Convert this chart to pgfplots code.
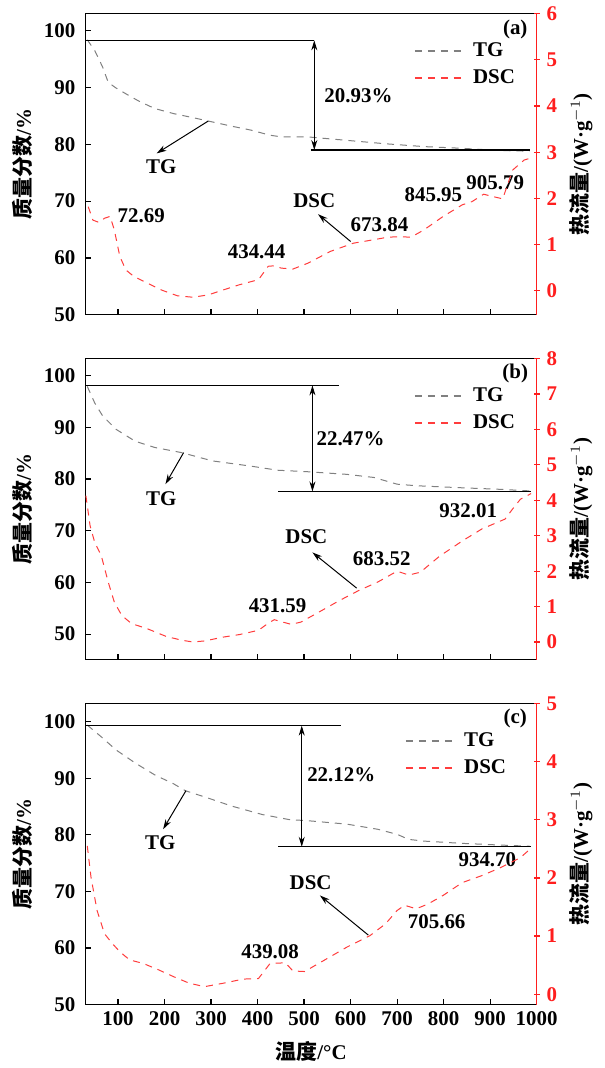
\documentclass[border=0pt]{standalone}
\usepackage{fontspec}
\setmainfont{Liberation Serif}
\newfontfamily\cjk{Noto Sans CJK SC}
\usepackage{pgfplots}
\pgfplotsset{compat=1.18}
\usetikzlibrary{arrows.meta}

\definecolor{tgc}{RGB}{128,128,128}
\definecolor{dscc}{RGB}{255,60,60}
\definecolor{axr}{RGB}{255,30,30}
\newcommand{\fs}{\fontsize{10.5}{12.6}\selectfont\bfseries}

\tikzset{
  tg/.style={tgc, dash pattern=on 3.5pt off 3pt, line width=0.5pt},
  dsc/.style={dscc, dash pattern=on 3.5pt off 3pt, line width=0.5pt},
  hl/.style={black, line width=0.6pt},
  ann/.style={font=\fs},
  arr/.style={line width=0.5pt, -{Stealth[length=5pt,width=3pt]}},
  darr/.style={line width=0.5pt, {Stealth[length=5pt,width=3pt]}-{Stealth[length=5pt,width=3pt]}},
}

\pgfplotsset{
  panel/.style={scale only axis, width=226.3pt, height=151pt,
    xmin=30, xmax=1000, xtick={100,200,...,1000},
    tick align=inside, major tick length=3pt,
    axis line style={line width=0.6pt}, every tick/.style={line width=0.6pt},
    tick label style={font=\fs},
    /pgf/number format/assume math mode=true,
    /pgf/number format/1000 sep={}},
  leftax/.style={panel, xtick pos=bottom, ytick pos=left, ytick={50,60,...,100},
    yticklabel style={xshift=-1.5pt},
    ylabel={{\cjk 质量分数}/\%},
    ylabel style={font=\fs, at={(axis description cs:-0.1385,0.5)}, anchor=center}},
  rightax/.style={panel, axis x line=none, axis y line=right,
    y axis line style={-, color=axr, line width=0.6pt},
    ytick style={color=axr}, yticklabel style={color=axr},
    ylabel={{\cjk 热流量}/(W·g$^{-1}$)},
    ylabel style={font=\fs, at={(axis description cs:1.0988,0.5)}, anchor=center},
    legend style={at={(axis description cs:0.7276,0.831)}, anchor=west, draw=none, fill=none,
      inner sep=0pt, font=\fs, row sep=1pt},
    legend cell align=left},
  tgleg/.style={legend image code/.code={\draw[tg, line width=0.7pt] (0pt,0pt) -- (23.5pt,0pt); \path (27pt,0pt);}},
  dscleg/.style={legend image code/.code={\draw[dsc, line width=0.7pt] (0pt,0pt) -- (23.5pt,0pt); \path (27pt,0pt);}},
}

\begin{document}
\begin{tikzpicture}
\path (0,0) rectangle (303pt,-534pt);

% ---------- (a)
\begin{axis}[leftax, at={(42.85pt,-6.5pt)}, anchor=north west, ymin=50, ymax=103, xticklabels={}]
\addplot[tg] coordinates {(34,98.4) (50,96.5) (67,93.6) (79,90.9) (96,89.9) (121,88.7) (145,87.6) (179,86.3) (220,85.4) (261,84.7) (294,84.1) (344,83.2) (386,82.5) (427,81.6) (452,81.3) (509,81.3) (592,80.7) (675,80.1) (758,79.6) (840,79.3) (923,78.9) (985,78.8)};
\addplot[hl] coordinates {(31,98.3) (522,98.3)};
\addplot[hl] coordinates {(514,79.0) (985,79.0)};
\draw[darr] (axis cs:522,98.3) -- (axis cs:522,79.0);
\node[ann] at (axis cs:617,88.6) {20.93\%};
\draw[arr] (axis cs:294,84.1) -- (axis cs:183,78.4);
\node[ann] at (axis cs:193,76.0) {TG};
\node[ann] at (axis cs:150,67.5) {72.69};
\node[ann] at (axis cs:398,61.1) {434.44};
\node[ann] at (axis cs:522,70.0) {DSC};
\draw[arr] (axis cs:600,62.9) -- (axis cs:530,67.7);
\node[ann] at (axis cs:662,65.8) {673.84};
\node[ann] at (axis cs:778,71.1) {845.95};
\node[ann] at (axis cs:911,73.3) {905.79};
\node[ann] at (axis cs:954,100.3) {(a)};
\end{axis}
\begin{axis}[rightax, at={(42.85pt,-6.5pt)}, anchor=north west, ymin=-0.52, ymax=6, ytick={0,...,6}]
\addlegendimage{tgleg}\addlegendentry{TG}
\addlegendimage{dscleg}\addlegendentry{DSC}
\addplot[dsc, forget plot] coordinates {(36,1.82) (46,1.53) (59,1.48) (71,1.57) (83,1.61) (92,1.32) (104,0.74) (117,0.45) (134,0.31) (162,0.17) (195,0.01) (228,-0.11) (261,-0.14) (294,-0.09) (327,0.02) (361,0.13) (402,0.24) (423,0.53) (435,0.54) (451,0.49) (476,0.47) (509,0.60) (556,0.85) (606,1.03) (647,1.10) (680,1.16) (705,1.17) (730,1.16) (758,1.32) (799,1.61) (840,1.86) (861,1.93) (886,2.09) (906,2.04) (927,1.99) (948,2.61) (973,2.83) (986,2.87)};
\end{axis}

% ---------- (b)
\begin{axis}[leftax, at={(42.85pt,-179.5pt)}, anchor=north west, ymin=45.05, ymax=103.28, xticklabels={}]
\addplot[tg] coordinates {(34,97.9) (50,94.7) (67,92.2) (96,89.6) (137,87.3) (179,86.1) (237,85.1) (303,83.5) (385,82.5) (443,81.7) (509,81.4) (592,80.9) (650,80.3) (700,79.0) (741,78.7) (840,78.3) (923,78.0) (985,77.7)};
\addplot[hl] coordinates {(31,98.1) (576,98.1)};
\addplot[hl] coordinates {(445,77.6) (988,77.6)};
\draw[darr] (axis cs:518,98.1) -- (axis cs:518,77.6);
\node[ann] at (axis cs:600,87.8) {22.47\%};
\draw[arr] (axis cs:241,85.1) -- (axis cs:202,79.0);
\node[ann] at (axis cs:193,76.2) {TG};
\node[ann] at (axis cs:505,68.9) {DSC};
\draw[arr] (axis cs:613,58.9) -- (axis cs:518,65.8);
\node[ann] at (axis cs:667,64.5) {683.52};
\node[ann] at (axis cs:443,55.5) {431.59};
\node[ann] at (axis cs:853,73.8) {932.01};
\node[ann] at (axis cs:954,100.5) {(b)};
\end{axis}
\begin{axis}[rightax, at={(42.85pt,-179.5pt)}, anchor=north west, ymin=-0.5, ymax=8, ytick={0,...,8}]
\addlegendimage{tgleg}\addlegendentry{TG}
\addlegendimage{dscleg}\addlegendentry{DSC}
\addplot[dsc, forget plot] coordinates {(31,4.13) (40,3.28) (50,2.81) (64,2.44) (79,1.69) (92,1.13) (108,0.75) (129,0.52) (162,0.38) (203,0.16) (237,0.05) (261,0.0) (286,0.03) (327,0.14) (361,0.21) (402,0.33) (425,0.55) (436,0.63) (452,0.57) (472,0.50) (493,0.56) (534,0.86) (576,1.17) (617,1.45) (658,1.69) (700,2.00) (725,1.89) (750,1.97) (791,2.42) (841,2.86) (882,3.19) (932,3.47) (948,3.75) (965,4.03) (988,4.19)};
\end{axis}

% ---------- (c)
\begin{axis}[leftax, at={(42.85pt,-352.5pt)}, anchor=north west, ymin=50, ymax=103.2,
  xlabel={{\cjk 温度}/°C}, xlabel style={font=\fs, at={(axis description cs:0.5,-0.155)}, anchor=center}]
\addplot[tg] coordinates {(34,99.4) (63,97.4) (96,95.0) (137,92.7) (179,90.6) (220,89.0) (245,87.8) (294,86.5) (344,85.1) (410,83.6) (468,82.7) (509,82.5) (592,81.9) (658,81.0) (700,80.1) (725,79.2) (758,78.9) (840,78.5) (923,78.2) (985,78.0)};
\addplot[hl] coordinates {(31,99.3) (580,99.3)};
\addplot[hl] coordinates {(445,77.9) (988,77.9)};
\draw[darr] (axis cs:495,99.3) -- (axis cs:495,77.9);
\node[ann] at (axis cs:580,90.6) {22.12\%};
\draw[arr] (axis cs:246,87.8) -- (axis cs:197,81.0);
\node[ann] at (axis cs:191,78.7) {TG};
\node[ann] at (axis cs:514,71.6) {DSC};
\draw[arr] (axis cs:638,62.3) -- (axis cs:534,69.3);
\node[ann] at (axis cs:785,64.6) {705.66};
\node[ann] at (axis cs:427,59.4) {439.08};
\node[ann] at (axis cs:894,75.7) {934.70};
\node[ann] at (axis cs:954,100.6) {(c)};
\end{axis}
\begin{axis}[rightax, at={(42.85pt,-352.5pt)}, anchor=north west, ymin=-0.18, ymax=5, ytick={0,...,5},
  legend style={at={(axis description cs:0.708,0.831)}}]
\addlegendimage{tgleg}\addlegendentry{TG}
\addlegendimage{dscleg}\addlegendentry{DSC}
\addplot[dsc, forget plot] coordinates {(34,2.55) (42,2.01) (55,1.44) (71,1.04) (88,0.87) (104,0.73) (125,0.59) (154,0.53) (187,0.42) (220,0.30) (253,0.19) (286,0.13) (327,0.19) (369,0.26) (402,0.27) (427,0.53) (460,0.54) (476,0.40) (501,0.39) (551,0.62) (592,0.81) (642,1.01) (675,1.21) (700,1.44) (716,1.53) (741,1.47) (766,1.55) (799,1.70) (840,1.92) (882,2.04) (923,2.18) (965,2.35) (985,2.49)};
\end{axis}
\end{tikzpicture}
\end{document}
